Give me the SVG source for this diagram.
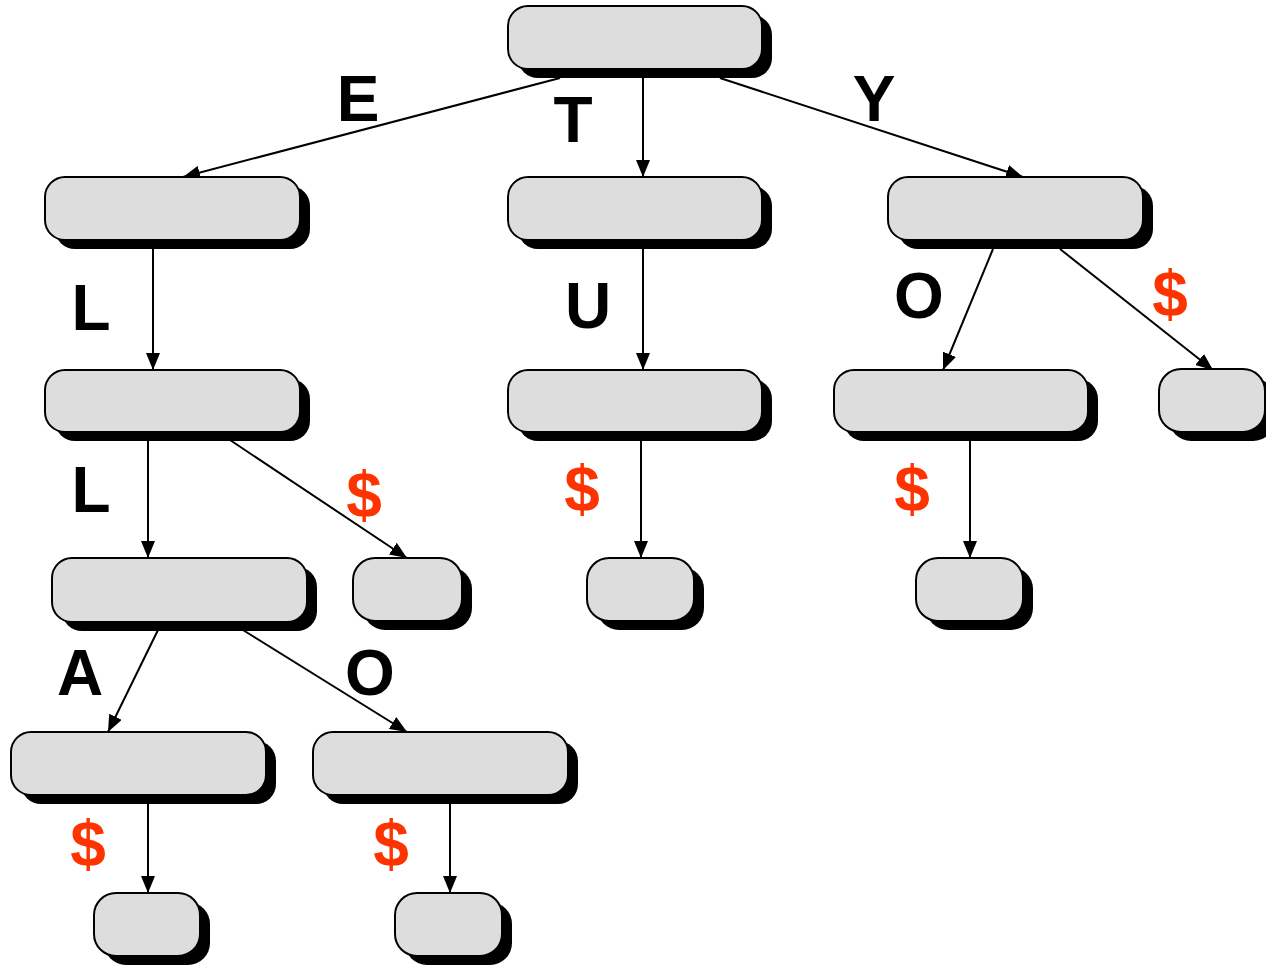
<svg xmlns="http://www.w3.org/2000/svg" width="1266" height="967" viewBox="0 0 1266 967">
<defs>
<style>
.sh{fill:#000}
.bx{fill:#DDDDDD;stroke:#000;stroke-width:2}
.ln{stroke:#000;stroke-width:2;fill:none;marker-end:url(#ah)}
.lb{font-family:"Liberation Sans",Arial,sans-serif;font-weight:bold;font-size:64px;text-anchor:middle;fill:#000}
.dl{fill:#FF3300}
</style>
<marker id="ah" markerUnits="userSpaceOnUse" markerWidth="18" markerHeight="14" refX="17" refY="7" orient="auto">
<path d="M0,0 L17,7 L0,14 z" fill="#000"/>
</marker>
</defs>
<rect width="1266" height="967" fill="#fff"/>
<g id="connectors">
<line class="ln" x1="560" y1="78" x2="183" y2="177"/>
<line class="ln" x1="643" y1="78" x2="643" y2="177"/>
<line class="ln" x1="720" y1="78" x2="1023" y2="177"/>
<line class="ln" x1="153" y1="249" x2="153" y2="370"/>
<line class="ln" x1="643" y1="249" x2="643" y2="370"/>
<line class="ln" x1="993" y1="249" x2="943" y2="370"/>
<line class="ln" x1="1060" y1="249" x2="1213" y2="370"/>
<line class="ln" x1="148" y1="440" x2="148" y2="558"/>
<line class="ln" x1="230" y1="440" x2="407" y2="558"/>
<line class="ln" x1="641" y1="440" x2="641" y2="558"/>
<line class="ln" x1="970" y1="440" x2="970" y2="558"/>
<line class="ln" x1="158" y1="630" x2="108" y2="732"/>
<line class="ln" x1="243" y1="630" x2="407" y2="732"/>
<line class="ln" x1="148" y1="803" x2="148" y2="893"/>
<line class="ln" x1="450" y1="803" x2="450" y2="893"/>
</g>
<g id="root"><rect class="sh" x="518" y="15" width="254" height="63" rx="20"/><rect class="bx" x="508" y="6" width="254" height="63" rx="20"/></g>
<g id="nE"><rect class="sh" x="55" y="186" width="255" height="63" rx="20"/><rect class="bx" x="45" y="177" width="255" height="63" rx="20"/></g>
<g id="nT"><rect class="sh" x="518" y="186" width="254" height="63" rx="20"/><rect class="bx" x="508" y="177" width="254" height="63" rx="20"/></g>
<g id="nY"><rect class="sh" x="898" y="186" width="255" height="63" rx="20"/><rect class="bx" x="888" y="177" width="255" height="63" rx="20"/></g>
<g id="nEL"><rect class="sh" x="55" y="379" width="255" height="62" rx="20"/><rect class="bx" x="45" y="370" width="255" height="62" rx="20"/></g>
<g id="nTU"><rect class="sh" x="518" y="379" width="254" height="62" rx="20"/><rect class="bx" x="508" y="370" width="254" height="62" rx="20"/></g>
<g id="nYO"><rect class="sh" x="844" y="379" width="254" height="62" rx="20"/><rect class="bx" x="834" y="370" width="254" height="62" rx="20"/></g>
<g id="nYend"><rect class="sh" x="1169" y="378" width="106" height="63" rx="22"/><rect class="bx" x="1159" y="369" width="106" height="63" rx="22"/></g>
<g id="nELL"><rect class="sh" x="62" y="567" width="255" height="64" rx="20"/><rect class="bx" x="52" y="558" width="255" height="64" rx="20"/></g>
<g id="nELend"><rect class="sh" x="363" y="567" width="109" height="63" rx="22"/><rect class="bx" x="353" y="558" width="109" height="63" rx="22"/></g>
<g id="nTUend"><rect class="sh" x="597" y="567" width="107" height="63" rx="22"/><rect class="bx" x="587" y="558" width="107" height="63" rx="22"/></g>
<g id="nYOend"><rect class="sh" x="926" y="567" width="107" height="63" rx="22"/><rect class="bx" x="916" y="558" width="107" height="63" rx="22"/></g>
<g id="nELLA"><rect class="sh" x="21" y="741" width="255" height="63" rx="20"/><rect class="bx" x="11" y="732" width="255" height="63" rx="20"/></g>
<g id="nELLO"><rect class="sh" x="323" y="741" width="255" height="63" rx="20"/><rect class="bx" x="313" y="732" width="255" height="63" rx="20"/></g>
<g id="nELLAend"><rect class="sh" x="104" y="902" width="106" height="63" rx="22"/><rect class="bx" x="94" y="893" width="106" height="63" rx="22"/></g>
<g id="nELLOend"><rect class="sh" x="405" y="902" width="107" height="63" rx="22"/><rect class="bx" x="395" y="893" width="107" height="63" rx="22"/></g>
<g id="labels">
<text class="lb" x="358" y="121">E</text>
<text class="lb" x="573" y="142">T</text>
<text class="lb" x="874" y="121">Y</text>
<text class="lb" x="91" y="330">L</text>
<text class="lb" x="588" y="328">U</text>
<text class="lb" x="919" y="318">O</text>
<text class="lb dl" x="1170" y="316">$</text>
<text class="lb" x="91" y="512">L</text>
<text class="lb dl" x="364" y="517">$</text>
<text class="lb dl" x="582" y="511">$</text>
<text class="lb dl" x="912" y="511">$</text>
<text class="lb" x="80" y="695">A</text>
<text class="lb" x="370" y="695">O</text>
<text class="lb dl" x="88" y="866">$</text>
<text class="lb dl" x="391" y="866">$</text>
</g>
</svg>
